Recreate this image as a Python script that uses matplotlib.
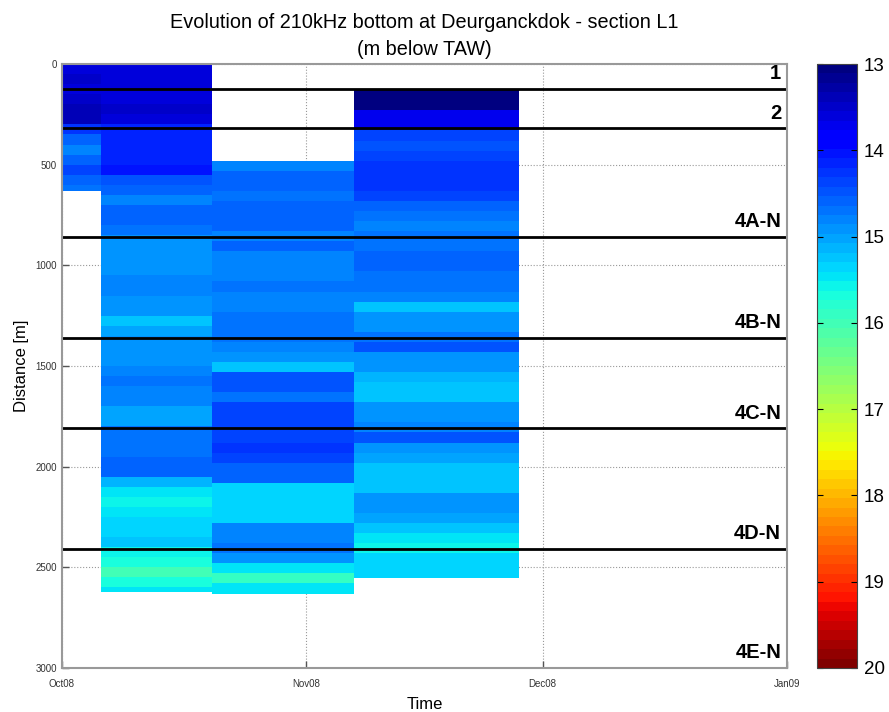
import numpy as np
import matplotlib.pyplot as plt
import matplotlib.dates as mdates
from datetime import datetime

plt.rcParams['font.family'] = ['Liberation Sans', 'DejaVu Sans']

# survey blocks (time edges) and distance range covered by each block
col_times = [datetime(2008, 10, 1), datetime(2008, 10, 6), datetime(2008, 10, 20),
             datetime(2008, 11, 7), datetime(2008, 11, 28)]
col_start = [0, 0, 480, 130]
col_end = [630, 2625, 2630, 2555]
step = 50

# bottom depth (m below TAW), one value per 50 m of distance
depth_a = [13.55, 13.45, 13.55, 13.5, 13.4, 13.35, 14.3, 14.55, 14.85, 14.6, 14.4, 14.6, 14.65]
depth_b = [13.55, 13.55, 13.6, 13.55, 13.5, 13.55, 14.1, 14.15, 14.2, 14.15,
           14.05, 14.5, 14.55, 14.8, 14.6, 14.55, 14.65, 14.9, 14.95, 14.95,
           14.95, 14.85, 14.85, 14.9, 14.95, 15.2, 15.05, 14.9, 14.9, 14.95,
           14.85, 14.7, 14.8, 14.8, 15.0, 15.0, 14.65, 14.65, 14.65, 14.55,
           14.55, 15.1, 15.5, 15.6, 15.5, 15.4, 15.3, 15.25, 15.6, 15.65,
           16.0, 15.7, 15.5]
depth_c = [14.85, 14.55, 14.55, 14.7, 14.55, 14.55, 14.6, 14.8, 14.6, 14.75,
           14.85, 14.85, 14.7, 14.85, 14.85, 14.65, 14.65, 14.7, 14.8, 14.9,
           15.2, 14.5, 14.5, 14.65, 14.4, 14.4, 14.4, 14.35, 14.3, 14.4,
           14.55, 14.55, 15.3, 15.35, 15.35, 15.3, 14.8, 14.75, 14.7, 14.95,
           15.5, 15.9, 15.5]
depth_d = [13.05, 13.05, 13.7, 13.75, 14.35, 14.45, 14.35, 14.3, 14.3, 14.3,
           14.35, 14.6, 14.7, 14.85, 14.7, 14.65, 14.6, 14.6, 14.65, 14.7,
           14.85, 15.2, 14.95, 14.9, 14.7, 14.5, 14.9, 14.9, 15.1, 15.2,
           15.2, 14.9, 14.9, 14.8, 14.5, 14.95, 15.0, 15.25, 15.25, 15.25,
           14.9, 14.95, 15.05, 15.25, 15.45, 15.6, 15.4, 15.4, 15.4]
depths = [depth_a, depth_b, depth_c, depth_d]

# section boundaries and names
section_bounds = [125, 320, 860, 1360, 1810, 2410]
section_names = ['1', '2', '4A-N', '4B-N', '4C-N', '4D-N', '4E-N']

fig = plt.figure(figsize=(8.89, 7.12), dpi=100)
ax = fig.add_axes([0.0697, 0.0618, 0.8155, 0.8483])
cax = fig.add_axes([0.919, 0.0618, 0.045, 0.8483])

cmap = plt.get_cmap('jet', 64)
tnum = mdates.date2num(col_times)
for i in range(4):
    yedges = np.append(np.arange(col_start[i], col_end[i], step), col_end[i])
    vals = np.array(depths[i]).reshape(-1, 1)
    mesh = ax.pcolormesh([tnum[i], tnum[i + 1]], yedges, vals, cmap=cmap, vmin=13, vmax=20)

for b in section_bounds:
    ax.axhline(b, color='black', lw=2)
for b, name in zip(section_bounds + [3000], section_names):
    ax.text(0.992, b - 76, name, transform=ax.get_yaxis_transform(), ha='right', va='center',
            fontsize=14.5, fontweight='bold')

ax.set_xlim(mdates.date2num(datetime(2008, 10, 1)), mdates.date2num(datetime(2009, 1, 1)))
ax.set_ylim(3000, 0)
ax.set_xticks(mdates.date2num([datetime(2008, 10, 1), datetime(2008, 11, 1),
                               datetime(2008, 12, 1), datetime(2009, 1, 1)]))
ax.xaxis.set_major_formatter(mdates.DateFormatter('%b%y'))
ax.set_yticks(np.arange(0, 3001, 500))
ax.tick_params(direction='in', labelsize=7, colors='#555555', length=5, width=1,
               labelcolor='#333333')
ax.tick_params(axis='x', pad=8)
ax.set_axisbelow(True)
ax.grid(True, linestyle=':', color='#999999', lw=0.8)
for s in ax.spines.values():
    s.set_color('#999999')
    s.set_linewidth(1.5)
ax.set_xlabel('Time', fontsize=12, labelpad=6)
ax.set_ylabel('Distance [m]', fontsize=12, labelpad=5)

cb = fig.colorbar(mesh, cax=cax)
cb.ax.invert_yaxis()
cb.set_ticks(np.arange(13, 21))
cb.ax.tick_params(labelsize=13.5, direction='in', length=4, left=True, right=True, pad=5)
cb.outline.set_edgecolor('#444444')

fig.text(0.477, 0.968, 'Evolution of 210kHz bottom at Deurganckdok - section L1',
         ha='center', va='center', fontsize=14.3)
fig.text(0.477, 0.930, '(m below TAW)', ha='center', va='center', fontsize=14.3)

plt.savefig('out.png', dpi=100)
